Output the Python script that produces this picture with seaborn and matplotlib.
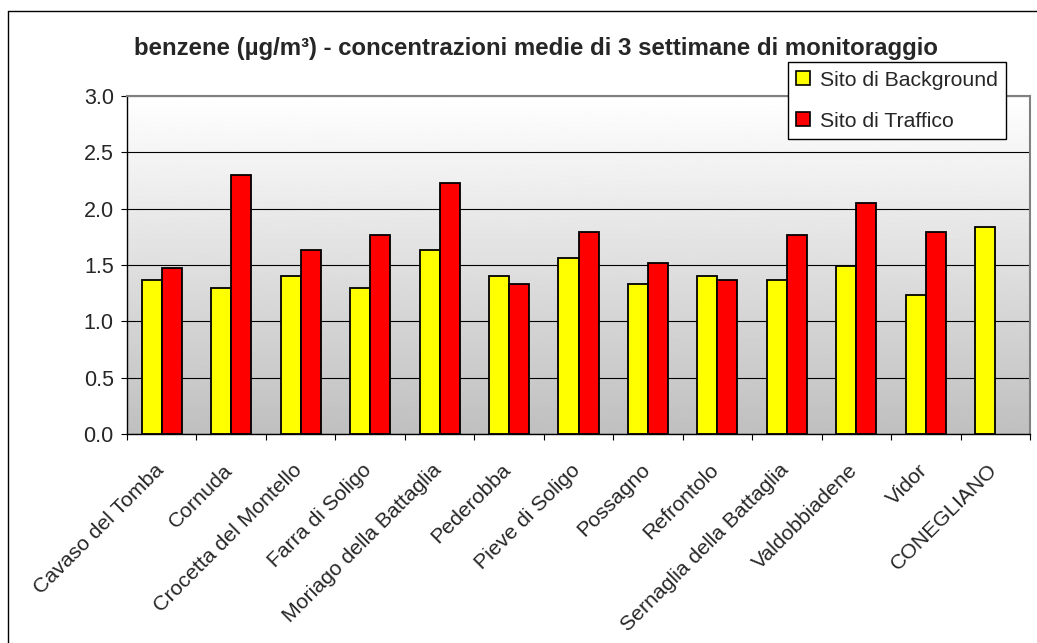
import numpy as np
import pandas as pd
import matplotlib
matplotlib.use("Agg")
import matplotlib.pyplot as plt
import matplotlib.transforms as mtransforms
import seaborn as sns
from matplotlib.lines import Line2D
from matplotlib.patches import Patch
from matplotlib.ticker import FormatStrFormatter

sites = ["Cavaso del Tomba", "Cornuda", "Crocetta del Montello", "Farra di Soligo",
         "Moriago della Battaglia", "Pederobba", "Pieve di Soligo", "Possagno",
         "Refrontolo", "Sernaglia della Battaglia", "Valdobbiadene", "Vidor", "CONEGLIANO"]
background = [1.37, 1.30, 1.40, 1.30, 1.63, 1.40, 1.56, 1.33, 1.40, 1.37, 1.49, 1.23, 1.84]
traffic = [1.47, 2.30, 1.63, 1.77, 2.23, 1.33, 1.79, 1.52, 1.37, 1.77, 2.05, 1.79, np.nan]
series_names = ["Sito di Background", "Sito di Traffico"]
series_colors = ["#FFFF00", "#FF0000"]
yticks = [0.0, 0.5, 1.0, 1.5, 2.0, 2.5, 3.0]
title = "benzene (µg/m³) - concentrazioni medie di 3 settimane di monitoraggio"

sns.set_theme(style="white")
plt.rcParams['font.family'] = ['Liberation Sans', 'DejaVu Sans']

df = pd.DataFrame({
    "site": sites * 2,
    "value": background + traffic,
    "series": [series_names[0]] * len(sites) + [series_names[1]] * len(sites),
}).dropna()

W, H = 1037, 643
fig = plt.figure(figsize=(W / 100, H / 100), dpi=100)
fig.patch.set_facecolor("white")
x0, x1, ytop, ybot = 127, 1030, 96, 434
ax = fig.add_axes([x0 / W, 1 - ybot / H, (x1 - x0) / W, (ybot - ytop) / H])

# gradient background
grad = np.linspace(1.0, 0.75, 256).reshape(-1, 1)
ax.imshow(grad, cmap="gray", vmin=0, vmax=1, extent=(-0.5, len(sites) - 0.5, 0, 3),
          aspect="auto", zorder=0, origin="upper")

palette = dict(zip(series_names, series_colors))
sns.barplot(data=df, x="site", y="value", hue="series", order=sites, hue_order=series_names,
            palette=palette, saturation=1, width=0.576, errorbar=None,
            edgecolor="black", linewidth=1.3, ax=ax, legend=False, zorder=2)

ax.set_xlim(-0.5, len(sites) - 0.5)
ax.set_ylim(0, 3)
ax.set_yticks(yticks)
ax.yaxis.set_major_formatter(FormatStrFormatter("%.1f"))
ax.set_xlabel("")
ax.set_ylabel("")

ax.yaxis.grid(True, color="black", linewidth=0.8)
ax.set_axisbelow(True)

ax.set_xticks(range(len(sites)))
ax.set_xticklabels(sites, rotation=45, ha="right", rotation_mode="anchor", fontsize=15.3)
ax.set_xticks(np.arange(-0.5, len(sites), 1), minor=True)
ax.tick_params(axis="x", which="major", length=0, pad=19, bottom=True)
ax.tick_params(axis="x", which="minor", length=4.5, width=0.8, color="black",
               direction="out", bottom=True)
ax.tick_params(axis="y", which="major", length=4.5, width=0.8, color="black",
               direction="out", left=True, labelsize=15.5, pad=5)
offset = mtransforms.ScaledTranslation(-8 / 100, 0, fig.dpi_scale_trans)
for lbl in ax.get_xticklabels():
    lbl.set_transform(lbl.get_transform() + offset)

for s in ["left", "bottom"]:
    ax.spines[s].set_color("black")
    ax.spines[s].set_linewidth(1.0)
for s in ["top", "right"]:
    ax.spines[s].set_color("#808080")
    ax.spines[s].set_linewidth(1.5)

fig.text(535.5 / W, 1 - 55 / H, title, ha="center", va="baseline",
         fontsize=17.3, fontweight="bold")

handles = [Patch(facecolor=c, edgecolor="black", linewidth=1.2) for c in series_colors]
leg = fig.legend(handles, series_names, loc="upper right",
                 bbox_to_anchor=(1006 / W, 1 - 62 / H), bbox_transform=fig.transFigure,
                 frameon=True, fancybox=False, edgecolor="black", framealpha=1,
                 fontsize=15.3, borderpad=0.4, handlelength=0.65, handleheight=0.65,
                 handletextpad=0.45, labelspacing=1.05, borderaxespad=0)
leg.get_frame().set_linewidth(1.0)

fig.add_artist(Line2D([7.5 / W, 7.5 / W], [0, 1 - 10.5 / H], transform=fig.transFigure,
                      color="black", linewidth=1.0))
fig.add_artist(Line2D([7.5 / W, 1], [1 - 10.5 / H, 1 - 10.5 / H], transform=fig.transFigure,
                      color="black", linewidth=1.0))

fig.savefig("out.png", dpi=100)
